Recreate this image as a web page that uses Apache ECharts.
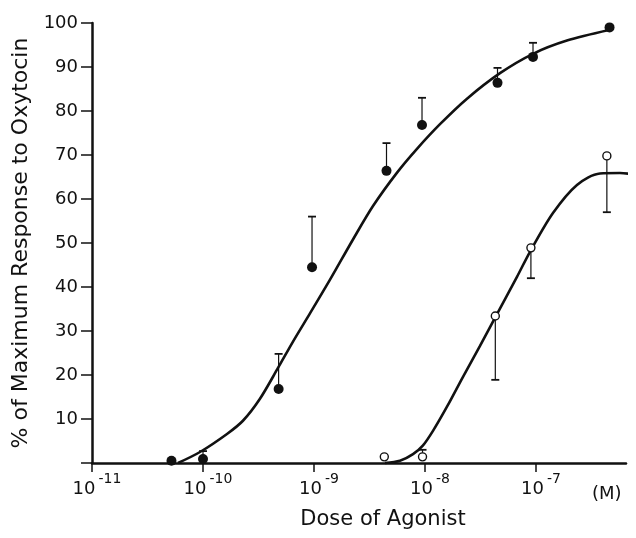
<!DOCTYPE html>
<html>
<head>
<meta charset="utf-8">
<script src="https://cdn.jsdelivr.net/npm/echarts@6/dist/echarts.min.js"></script>
<style>
  html, body { margin: 0; padding: 0; background: #fff; }
  #main { width: 636px; height: 538px; }
</style>
</head>
<body>
<div id="main"></div>
<script>
// filled circles (agonist 1) - dose in M, response in %
var filledDose = [5.2e-11, 1e-10, 4.8e-10, 9.6e-10, 4.5e-9, 9.4e-9, 4.5e-8, 9.4e-8, 4.6e-7];
var filledResp = [0.5, 0.9, 16.8, 44.5, 66.4, 76.8, 86.4, 92.3, 99];
var filledErrEnd = [null, 2.7, 24.8, 56, 72.7, 83, 89.8, 95.5, null];

// open circles (agonist 2)
var openDose = [4.3e-9, 9.5e-9, 4.3e-8, 9.0e-8, 4.35e-7];
var openResp = [1.4, 1.4, 33.4, 48.9, 69.8];
var openErrEnd = [null, 3, 18.9, 42.0, 57.0];

// fitted curves as drawn
var filledCurveDose = [5.95e-11, 9.4e-11, 1.645e-10, 2.29e-10, 3.26e-10, 4.74e-10, 6.47e-10, 9.2e-10, 1.39e-9,
  2.245e-9, 3.4e-9, 5.6e-9, 8.47e-9, 1.365e-8, 2.39e-8, 4.74e-8, 9.4e-8, 1.9e-7, 4.55e-7];
var filledCurveResp = [0, 2.5, 6.6, 9.6, 14.6, 21.6, 27.6, 34.0, 41.6,
  50.8, 58.4, 66.0, 71.4, 77.0, 82.8, 88.6, 93.0, 96.0, 98.4];
var openCurveDose = [4.36e-9, 5.95e-9, 7.8e-9, 9.6e-9, 1.18e-8, 1.578e-8, 2.2e-8, 3.13e-8, 4.27e-8,
  6.74e-8, 8.83e-8, 1.422e-7, 2.34e-7, 3.77e-7, 5.71e-7, 8.13e-7];
var openCurveResp = [0, 0.5, 2.0, 4.0, 7.3, 12.8, 19.6, 26.6, 33.0,
  42.3, 48.0, 56.8, 63.2, 65.8, 65.9, 65.5];

var xTicks = [1e-11, 1e-10, 1e-9, 1e-8, 1e-7];
var yTicks = [10, 20, 30, 40, 50, 60, 70, 80, 90, 100];

var ink = '#111';
var font = 'DejaVu Sans';

function pairs(xs, ys) {
  return xs.map(function (x, i) { return [x, ys[i]]; });
}

function errorBars(xs, ys, ends) {
  var data = [];
  xs.forEach(function (x, i) {
    if (ends[i] != null) data.push([x, ys[i], ends[i]]);
  });
  return {
    type: 'custom',
    data: data,
    encode: { x: 0, y: [1, 2] },
    z: 1,
    silent: true,
    renderItem: function (params, api) {
      var p0 = api.coord([api.value(0), api.value(1)]);
      var p1 = api.coord([api.value(0), api.value(2)]);
      var half = 4;
      return {
        type: 'group',
        children: [
          { type: 'line', shape: { x1: p0[0], y1: p0[1], x2: p1[0], y2: p1[1] }, style: { stroke: ink, lineWidth: 1.2 } },
          { type: 'line', shape: { x1: p1[0] - half, y1: p1[1], x2: p1[0] + half, y2: p1[1] }, style: { stroke: ink, lineWidth: 1.8 } }
        ]
      };
    }
  };
}

var chart = echarts.init(document.getElementById('main'));

var option = {
  animation: false,
  backgroundColor: '#fff',
  title: {
    text: '(M)',
    left: 592,
    top: 485,
    padding: 0,
    textStyle: { fontFamily: font, fontSize: 18, fontWeight: 'normal', color: ink }
  },
  grid: { left: 92, right: 10, top: 23, bottom: 75 },
  xAxis: {
    type: 'log',
    logBase: 10,
    min: 1e-11,
    max: 6.47e-7,
    name: 'Dose of Agonist',
    nameLocation: 'middle',
    nameGap: 46,
    nameTextStyle: { fontFamily: font, fontSize: 21, color: ink, padding: [0, 0, 0, 48] },
    axisLine: { lineStyle: { color: ink, width: 2.5 } },
    axisTick: { show: true, inside: false, length: 9, lineStyle: { color: ink, width: 1.5 }, customValues: xTicks },
    splitLine: { show: false },
    minorTick: { show: false },
    axisLabel: {
      customValues: xTicks,
      margin: 9,
      formatter: function (v) {
        var e = Math.round(Math.log10(v));
        if (Math.abs(Math.log10(v) - e) > 0.01) return '';
        return '{b|10}{e|' + e + '}';
      },
      rich: {
        b: { fontFamily: font, fontSize: 18, color: ink, padding: [0, 0, 0, 10] },
        e: { fontFamily: font, fontSize: 14, color: ink, padding: [0, 0, 20, 3] }
      }
    }
  },
  yAxis: {
    type: 'value',
    min: 0,
    max: 100,
    interval: 10,
    name: '% of Maximum Response to Oxytocin',
    nameLocation: 'middle',
    nameRotate: 90,
    nameGap: 52,
    nameTextStyle: { fontFamily: font, fontSize: 22, color: ink },
    axisLine: { show: true, lineStyle: { color: ink, width: 2.5 } },
    axisTick: { show: true, inside: false, length: 11, lineStyle: { color: ink, width: 1.5 } },
    splitLine: { show: false },
    axisLabel: {
      margin: 14,
      fontFamily: font,
      fontSize: 18,
      color: ink,
      formatter: function (v) { return yTicks.indexOf(v) >= 0 ? String(v) : ''; }
    }
  },
  series: [
    errorBars(filledDose, filledResp, filledErrEnd),
    errorBars(openDose, openResp, openErrEnd),
    {
      type: 'line',
      data: pairs(filledCurveDose, filledCurveResp),
      smooth: 0.3,
      showSymbol: false,
      clip: false,
      z: 2,
      lineStyle: { color: ink, width: 2.6 }
    },
    {
      type: 'line',
      data: pairs(openCurveDose, openCurveResp),
      smooth: 0.3,
      showSymbol: false,
      clip: false,
      z: 2,
      lineStyle: { color: ink, width: 2.6 }
    },
    {
      type: 'scatter',
      data: pairs(filledDose, filledResp),
      symbol: 'circle',
      symbolSize: 10,
      clip: false,
      z: 3,
      itemStyle: { color: ink, opacity: 1 }
    },
    {
      type: 'scatter',
      data: pairs(openDose, openResp),
      symbol: 'circle',
      symbolSize: 8,
      clip: false,
      z: 3,
      itemStyle: { color: '#fff', borderColor: ink, borderWidth: 1.4, opacity: 1 }
    }
  ]
};

chart.setOption(option);
</script>
</body>
</html>
